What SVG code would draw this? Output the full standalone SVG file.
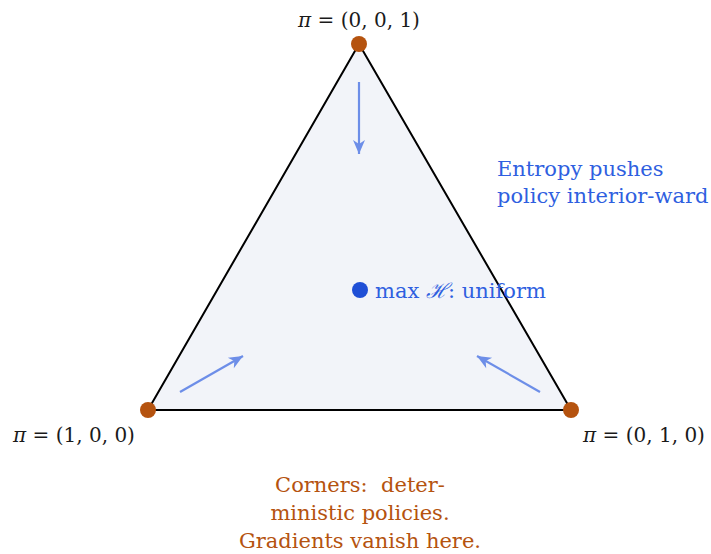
<svg xmlns="http://www.w3.org/2000/svg" width="711" height="554" viewBox="0 0 711 554">
<style>
.lbl{font-family:"DejaVu Serif",serif;font-size:20px;fill:#1a1a1a}
.blue{font-family:"DejaVu Serif",serif;font-size:21px;fill:#2f5fe0}
.orange{font-family:"DejaVu Serif",serif;font-size:21px;fill:#b5530f}
.v{fill:#b5530f}
.arr{stroke:#6d8ee8;stroke-width:2.2;fill:none;marker-end:url(#ah)}
</style>
<defs>
<marker id="ah" markerWidth="20" markerHeight="20" refX="0" refY="0" markerUnits="userSpaceOnUse" orient="auto" overflow="visible">
<path d="M-14,-6 L0,0 L-14,6 L-10,0 Z" fill="#6d8ee8"/>
</marker>
</defs>
<rect width="711" height="554" fill="#ffffff"/>
<g id="simplex">
<polygon points="359,44 148,410 571,410" fill="#f2f4f9" stroke="#000" stroke-width="2" stroke-linejoin="round"/>
</g>
<g id="connectors">
<line class="arr" x1="359" y1="82" x2="359" y2="154"/>
<line class="arr" x1="180" y1="392" x2="243" y2="356"/>
<line class="arr" x1="540" y1="392" x2="477" y2="356"/>
</g>
<g id="v-top"><circle class="v" cx="359" cy="44" r="8"/><text class="lbl" x="359" y="27" text-anchor="middle"><tspan font-style="italic">π</tspan> = (0, 0, 1)</text></g>
<g id="v-left"><circle class="v" cx="148" cy="410" r="8"/><text class="lbl" x="74" y="442" text-anchor="middle"><tspan font-style="italic">π</tspan> = (1, 0, 0)</text></g>
<g id="v-right"><circle class="v" cx="571" cy="410" r="8"/><text class="lbl" x="644" y="442" text-anchor="middle"><tspan font-style="italic">π</tspan> = (0, 1, 0)</text></g>
<g id="center"><circle cx="360" cy="290" r="8" fill="#1f4fd6"/><text class="blue" x="375" y="298">max <tspan font-style="italic">ℋ</tspan>: uniform</text></g>
<g id="entropy-note"><text class="blue" x="497" y="176">Entropy pushes</text><text class="blue" x="497" y="203">policy interior-ward</text></g>
<g id="corner-note"><text class="orange" text-anchor="middle"><tspan x="360" y="492">Corners:&#160; deter-</tspan><tspan x="360" y="520">ministic policies.</tspan><tspan x="360" y="548">Gradients vanish here.</tspan></text></g>
</svg>
